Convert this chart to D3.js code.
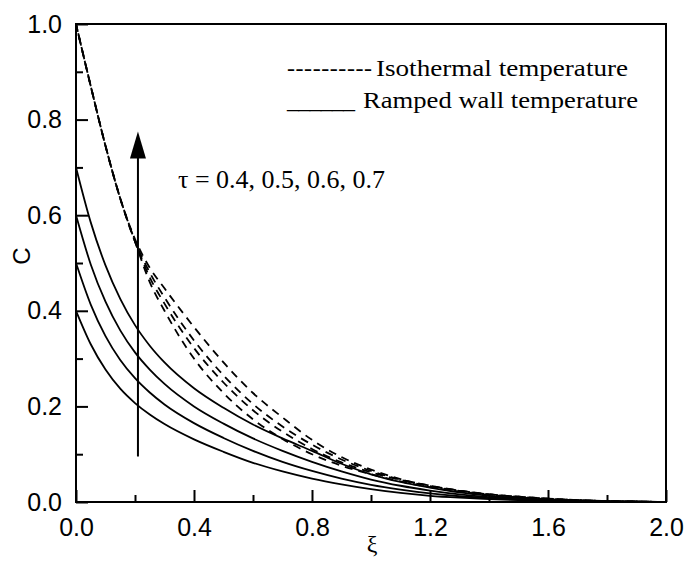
<!DOCTYPE html>
<html><head><meta charset="utf-8">
<script src="https://cdn.jsdelivr.net/npm/d3@7"></script>
<style>body{margin:0;background:#fff;}svg{display:block;}</style>
</head><body>
<svg id="chart" width="686" height="564"></svg>
<script>
// ---- data ----
const xi = [0, 0.05, 0.1, 0.15, 0.2, 0.25, 0.3, 0.4, 0.5, 0.6, 0.7, 0.8, 0.9, 1.0, 1.1, 1.2, 1.3, 1.4, 1.5, 1.6, 1.7, 1.8, 1.9, 2.0];
const tauValues = [0.4, 0.5, 0.6, 0.7];
// Ramped wall temperature (solid)
const rampTau04 = [0.40, 0.33, 0.277, 0.237, 0.207, 0.183, 0.163, 0.131, 0.105, 0.082, 0.064, 0.049, 0.037, 0.027, 0.019, 0.013, 0.009, 0.006, 0.004, 0.002, 0.001, 0.0005, 0.0002, 0];
const rampTau05 = [0.50, 0.413, 0.347, 0.297, 0.259, 0.229, 0.204, 0.165, 0.134, 0.107, 0.084, 0.065, 0.049, 0.036, 0.026, 0.018, 0.012, 0.008, 0.005, 0.003, 0.002, 0.001, 0.0004, 0];
const rampTau06 = [0.60, 0.497, 0.419, 0.359, 0.313, 0.277, 0.247, 0.200, 0.164, 0.133, 0.107, 0.084, 0.064, 0.047, 0.034, 0.024, 0.016, 0.010, 0.006, 0.004, 0.002, 0.001, 0.0005, 0];
const rampTau07 = [0.70, 0.585, 0.495, 0.425, 0.37, 0.327, 0.292, 0.238, 0.197, 0.162, 0.133, 0.107, 0.08, 0.058, 0.042, 0.03, 0.02, 0.013, 0.008, 0.005, 0.003, 0.0015, 0.0005, 0];
// Isothermal temperature (dashed)
const isoTau04 = [1.0, 0.87, 0.745, 0.635, 0.545, 0.46, 0.40, 0.30, 0.228, 0.173, 0.132, 0.10, 0.076, 0.058, 0.043, 0.031, 0.022, 0.015, 0.010, 0.006, 0.004, 0.002, 0.001, 0];
const isoTau05 = [1.0, 0.87, 0.745, 0.635, 0.545, 0.47, 0.415, 0.322, 0.25, 0.192, 0.147, 0.111, 0.083, 0.062, 0.046, 0.033, 0.023, 0.016, 0.011, 0.007, 0.004, 0.002, 0.001, 0];
const isoTau06 = [1.0, 0.87, 0.745, 0.635, 0.545, 0.48, 0.428, 0.338, 0.265, 0.205, 0.158, 0.12, 0.089, 0.065, 0.047, 0.034, 0.024, 0.016, 0.011, 0.007, 0.004, 0.002, 0.001, 0];
const isoTau07 = [1.0, 0.87, 0.745, 0.635, 0.55, 0.49, 0.447, 0.366, 0.292, 0.228, 0.177, 0.13, 0.094, 0.068, 0.048, 0.034, 0.024, 0.016, 0.011, 0.007, 0.004, 0.002, 0.001, 0];
const xTicks = [0.0, 0.4, 0.8, 1.2, 1.6, 2.0];
const yTicks = [0.0, 0.2, 0.4, 0.6, 0.8, 1.0];
const legendLabels = ["Isothermal temperature", "Ramped wall temperature"];
const annotation = "τ = 0.4, 0.5, 0.6, 0.7";
const arrowX = 0.21, arrowFrom = 0.095, arrowTo = 0.775;

// ---- layout ----
const svg = d3.select("#chart");
const m = {left: 76, top: 24, right: 666, bottom: 502};
const x = d3.scaleLinear().domain([0, 2]).range([m.left, m.right]);
const y = d3.scaleLinear().domain([0, 1]).range([m.bottom, m.top]);

const sansFont = "'Liberation Sans', Arial, sans-serif";
const serifFont = "'Liberation Serif', 'Times New Roman', serif";

// curves
const line = d3.line().x((d, i) => x(xi[i])).y(d => y(d)).curve(d3.curveMonotoneX);
const g = svg.append("g");
[rampTau04, rampTau05, rampTau06, rampTau07].forEach(s => {
  g.append("path").attr("d", line(s)).attr("fill", "none").attr("stroke", "#000").attr("stroke-width", 1.8);
});
[isoTau04, isoTau05, isoTau06, isoTau07].forEach((s, i) => {
  g.append("path").attr("d", line(s)).attr("fill", "none").attr("stroke", "#000").attr("stroke-width", 1.8)
    .attr("stroke-dasharray", "8,6").attr("stroke-dashoffset", i * 1.5);
});

// frame
svg.append("rect").attr("x", m.left).attr("y", m.top).attr("width", m.right - m.left).attr("height", m.bottom - m.top)
  .attr("fill", "none").attr("stroke", "#000").attr("stroke-width", 2);

// axes (ticks inward)
const xAxis = d3.axisBottom(x).tickValues(xTicks).tickSize(-12).tickPadding(16).tickFormat(d3.format(".1f"));
const xMinor = d3.axisBottom(x).tickValues(d3.range(0.2, 2.0, 0.4)).tickSize(-7).tickFormat("");
const yAxis = d3.axisLeft(y).tickValues(yTicks).tickSize(-12).tickPadding(14).tickFormat(d3.format(".1f"));
const yMinor = d3.axisLeft(y).tickValues(d3.range(0.1, 1.0, 0.2)).tickSize(-7).tickFormat("");

function styleAxis(sel) {
  sel.select(".domain").remove();
  sel.selectAll("line").attr("stroke", "#000").attr("stroke-width", 2);
  sel.selectAll("text").attr("font-family", sansFont).attr("font-size", 25).attr("fill", "#000");
}
svg.append("g").attr("transform", `translate(0,${m.bottom})`).call(xAxis).call(styleAxis);
svg.append("g").attr("transform", `translate(0,${m.bottom})`).call(xMinor).call(styleAxis);
svg.append("g").attr("transform", `translate(${m.left},0)`).call(yAxis).call(styleAxis);
svg.append("g").attr("transform", `translate(${m.left},0)`).call(yMinor).call(styleAxis);

// axis titles
svg.append("text").attr("transform", "translate(30,256) rotate(-90)").attr("text-anchor", "middle")
  .attr("font-family", sansFont).attr("font-size", 24).text("C");
svg.append("text").attr("x", 372).attr("y", 552).attr("text-anchor", "middle")
  .attr("font-family", serifFont).attr("font-size", 24).text("ξ");

// legend (text-drawn line samples as in the original)
const lg = svg.append("g").attr("font-family", serifFont).attr("font-size", 24).attr("fill", "#000");
lg.append("text").attr("x", 287).attr("y", 76).attr("textLength", 85).attr("lengthAdjust", "spacing").text("----------");
lg.append("text").attr("x", 376).attr("y", 76).attr("textLength", 252).attr("lengthAdjust", "spacingAndGlyphs").text(legendLabels[0]);
lg.append("text").attr("x", 287).attr("y", 108).attr("textLength", 68).attr("lengthAdjust", "spacing").text("______");
lg.append("text").attr("x", 363).attr("y", 108).attr("textLength", 275).attr("lengthAdjust", "spacingAndGlyphs").text(legendLabels[1]);

// annotation
svg.append("text").attr("x", 178).attr("y", 188).attr("font-family", serifFont).attr("font-size", 25)
  .attr("textLength", 207).attr("lengthAdjust", "spacingAndGlyphs").text(annotation);

// arrow
svg.append("line").attr("x1", x(arrowX)).attr("x2", x(arrowX)).attr("y1", y(arrowFrom)).attr("y2", y(arrowTo) + 20)
  .attr("stroke", "#000").attr("stroke-width", 2);
const tipY = y(arrowTo), ax = x(arrowX);
svg.append("path").attr("d", `M${ax},${tipY} L${ax - 8},${tipY + 27} L${ax + 8},${tipY + 27} Z`).attr("fill", "#000");
</script>
</body></html>
